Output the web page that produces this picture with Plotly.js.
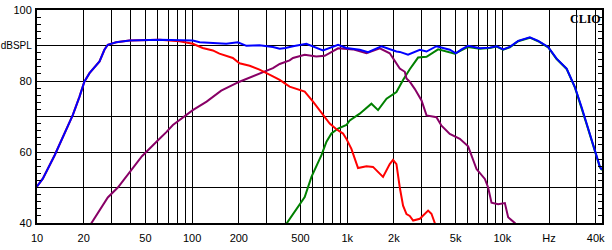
<!DOCTYPE html>
<html>
<head>
<meta charset="utf-8">
<script src="https://cdn.plot.ly/plotly-3.0.1.min.js"></script>
<style>html,body{margin:0;padding:0;background:#fff;}#chart{width:612px;height:250px;}</style>
</head>
<body>
<div id="chart"></div>
<script>
// Total response (blue)
var totalFreq = [10, 10.9, 13, 14.7, 17, 18.8, 20.2, 21.8, 25.3, 27.2, 28.6, 32.4, 39.5, 61.6, 101, 112, 166, 197, 224, 272, 332, 367, 400, 447, 545, 698, 873, 988, 1204, 1363, 1663, 2076, 2182, 2466, 2939, 3245, 3760, 4584, 5012, 5456, 6017, 7161, 8302, 9180, 10120, 11170, 12650, 15040, 17010, 19730, 22380, 25960, 29360, 32450, 34910, 38550, 42560, 43900];
var totalDb   = [50.3, 52.5, 59.1, 64.3, 70.4, 75.6, 79.8, 82.2, 85.5, 88.8, 90.2, 90.9, 91.4, 91.6, 91.4, 90.9, 90.5, 90.9, 89.9, 90.1, 89.6, 89.1, 89.3, 89.8, 90.5, 88.6, 90.2, 89.3, 88.8, 88.1, 89.8, 88.3, 88.2, 87.4, 88.8, 88.3, 89.8, 88.8, 87.8, 88.9, 89.9, 89.2, 89.4, 89.8, 88.9, 89.6, 91.3, 92.3, 91.3, 89.6, 86.3, 83.5, 78.3, 72.6, 68.0, 61.9, 55.8, 55.0];

// Woofer (red)
var wooferFreq = [10, 10.9, 13, 14.7, 17, 18.8, 20.2, 21.8, 25.3, 27.2, 28.6, 32.4, 39.5, 61.6, 83, 101, 117, 136, 150, 183, 202, 235, 272, 332, 367, 425, 494, 532, 602, 698, 771, 852, 940, 988, 1064, 1117, 1174, 1330, 1466, 1701, 1880, 1974, 2076, 2182, 2291, 2410, 2530, 2660, 2939, 3322, 3491, 3669, 3800];
var wooferDb   = [50.3, 52.5, 59.1, 64.3, 70.4, 75.6, 79.8, 82.2, 85.5, 88.8, 90.2, 90.9, 91.4, 91.6, 91.2, 90.5, 89.3, 88.6, 87.7, 86.5, 85.0, 84.3, 83.2, 81.3, 80.3, 78.4, 77.5, 77.0, 74.2, 70.4, 68.0, 66.4, 65.2, 63.7, 60.9, 58.2, 55.5, 56.0, 55.8, 53.0, 56.6, 57.8, 56.6, 50.0, 44.9, 42.5, 42.0, 40.7, 41.2, 43.5, 42.6, 40.0, 38.0];

// Midrange (purple)
var midFreq = [21, 22.4, 25.3, 28.6, 33.2, 39.5, 47.5, 58.7, 61.6, 68.2, 75.2, 101, 124, 154, 202, 272, 332, 367, 425, 447, 532, 632, 716, 873, 1090, 1330, 1622, 1880, 2076, 2182, 2350, 2410, 2530, 2723, 3013, 3245, 3760, 4053, 4584, 5320, 6017, 6817, 7714, 8098, 8513, 9395, 10380, 10900, 12040, 12500];
var midDb   = [38.0, 40.0, 43.8, 47.2, 50.0, 54.4, 58.8, 62.8, 63.8, 65.6, 67.6, 71.8, 74.2, 77.3, 79.8, 82.2, 83.6, 84.8, 85.8, 86.5, 87.4, 86.9, 87.1, 89.2, 88.9, 87.8, 89.2, 87.8, 85.0, 83.5, 82.6, 80.7, 79.8, 77.8, 74.5, 70.3, 69.8, 67.4, 65.1, 63.7, 61.6, 55.2, 52.4, 50.0, 45.7, 45.3, 45.6, 41.6, 40.0, 39.0];

// Tweeter (green)
var tweeterFreq = [380, 409, 470, 532, 588, 632, 682, 735, 791, 873, 988, 1038, 1204, 1432, 1580, 1792, 2076, 2290, 2530, 2862, 3245, 3855, 4938, 6017, 7161, 8302, 9180, 10120, 11170, 12650, 15040, 17010, 19730, 22380, 25960, 29360, 32450, 34910, 38550, 42560, 43900];
var tweeterDb   = [38.0, 40.0, 44.0, 47.3, 53.0, 55.8, 59.1, 62.9, 65.2, 66.6, 67.6, 68.9, 70.8, 73.6, 71.8, 75.0, 76.9, 80.3, 83.3, 86.6, 86.8, 88.9, 87.7, 89.6, 89.1, 89.3, 89.7, 88.8, 89.5, 91.2, 92.2, 91.2, 89.5, 86.2, 83.4, 78.2, 72.5, 67.9, 61.8, 55.7, 54.9];

// Axis ticks
var xGridVals = [10,20,30,40,50,60,70,80,90,100,200,300,400,500,600,700,800,900,1000,2000,3000,4000,5000,6000,7000,8000,9000,10000,20000,30000,40000];
var xTickLabels = ['10','20','','','50','','','','','100','200','','','500','','','','','1k','2k','','','5k','','','','','10k','Hz','','40k'];
var yTickVals = [40,50,60,70,80,90,100];
var yTickLabels = ['40','','60','','80','<span style="font-size:10px">dBSPL</span>','100'];

var lw = 2;
var traces = [
  {x: tweeterFreq, y: tweeterDb, mode: 'lines', line: {color: '#008000', width: lw}},
  {x: midFreq, y: midDb, mode: 'lines', line: {color: '#880066', width: lw}},
  {x: wooferFreq, y: wooferDb, mode: 'lines', line: {color: '#ff0000', width: lw}},
  {x: totalFreq, y: totalDb, mode: 'lines', line: {color: '#0000ff', width: lw}}
];

var tickFont = {family: 'Liberation Sans, Arial, sans-serif', size: 11, color: '#000'};
var layout = {
  width: 612, height: 250,
  margin: {l: 37, r: 10, t: 10, b: 27, pad: 0},
  paper_bgcolor: '#fff', plot_bgcolor: '#fff',
  showlegend: false,
  xaxis: {
    type: 'log', range: [1, Math.log10(43900)],
    tickmode: 'array', tickvals: xGridVals, ticktext: xTickLabels,
    showgrid: true, gridcolor: '#000', gridwidth: 1,
    showline: true, linecolor: '#000', linewidth: 2, mirror: true,
    ticks: '', zeroline: false, tickfont: tickFont, ticklabelstandoff: 4
  },
  yaxis: {
    range: [40, 100],
    tickmode: 'array', tickvals: yTickVals, ticktext: yTickLabels,
    showgrid: true, gridcolor: '#000', gridwidth: 1,
    showline: true, linecolor: '#000', linewidth: 2, mirror: 'allticks',
    ticks: 'inside', ticklen: 4, tickcolor: '#000', tickwidth: 1,
    minor: {tickmode: 'linear', tick0: 40, dtick: 2, ticks: 'inside', ticklen: 4, tickcolor: '#000', tickwidth: 1, showgrid: false},
    zeroline: false, tickfont: tickFont, ticklabelstandoff: 1
  },
  annotations: [{
    text: '<b>CLIO</b>', xref: 'paper', yref: 'paper', x: 1, y: 1,
    xanchor: 'right', yanchor: 'top', showarrow: false, xshift: 1, yshift: 0,
    font: {family: 'Liberation Serif, Times New Roman, serif', size: 12, color: '#000'}
  }]
};

Plotly.newPlot('chart', traces, layout, {staticPlot: true, displayModeBar: false});
</script>
</body>
</html>
